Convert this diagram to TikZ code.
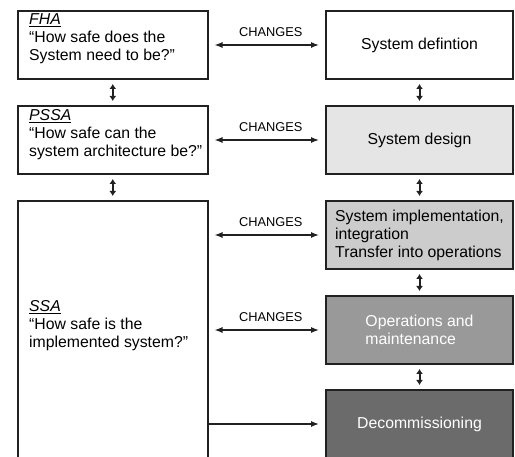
\documentclass[tikz,border=0pt]{standalone}
\usepackage{fontspec}
\setmainfont{Liberation Sans}
\usetikzlibrary{positioning,calc,arrows.meta}
\definecolor{designgray}{gray}{0.9}
\definecolor{implgray}{gray}{0.8}
\definecolor{opsgray}{gray}{0.6}
\definecolor{decomgray}{gray}{0.42}
\definecolor{inkgray}{gray}{0.13}

\begin{document}
\begin{tikzpicture}[x=1pt,y=-1pt]
\tikzstyle{box}=[draw=inkgray,line width=2pt,minimum height=68pt,inner sep=0pt,
  font=\fontsize{15.8}{18}\selectfont]
\tikzstyle{leftbox}=[box,minimum width=189.5pt]
\tikzstyle{rightbox}=[box,minimum width=187pt,align=left]
\tikzstyle{boxtext}=[anchor=west,align=left,inner sep=0pt,
  font=\fontsize{15.8}{18}\selectfont]
\tikzstyle{change}=[<->,draw=inkgray,line width=1.3pt,shorten <=6pt,shorten >=6pt]
\tikzstyle{link}=[{Latex[length=5pt,width=7pt]}-{Latex[length=5pt,width=7pt]},
  draw=inkgray,line width=2pt,shorten <=4pt,shorten >=4pt]
\tikzstyle{changelbl}=[midway,yshift=13pt,xshift=4pt,inner sep=0pt,
  font=\fontsize{12.8}{14}\selectfont]
\tikzset{>={Latex[length=8pt,width=6pt]}}
\useasboundingbox (0,0) rectangle (515,457);
% analysis column
\node[leftbox] (fha) at (112.75,45) {};
\node[leftbox] (pssa) at (112.75,140) {};
\node[leftbox,minimum height=280pt] (ssa) at (112.75,341) {};
\node[boxtext] (fhatext) at ($(fha.west)+(12,-6)$)
  {\underline{\textit{FHA}}\\“How safe does the\\System need to be?”};
\node[boxtext] (pssatext) at ($(pssa.west)+(12,-5)$)
  {\underline{\textit{PSSA}}\\“How safe can the\\system architecture be?”};
\node[boxtext] (ssatext) at ($(ssa.west)+(12,-15)$)
  {\underline{\textit{SSA}}\\“How safe is the\\implemented system?”};
% lifecycle column
\node[rightbox] (sysdef) at (419.5,45) {System defintion};
\node[rightbox,fill=designgray] (sysdes) at (419.5,140) {System design};
\node[rightbox,fill=implgray] (sysimpl) at (419.5,235)
  {System implementation,\\integration\\Transfer into operations};
\node[rightbox,fill=opsgray,text=white] (ops) at (419.5,330)
  {Operations and\\maintenance};
\node[rightbox,fill=decomgray,text=white] (decom) at (419.5,424)
  {Decommissioning};
% vertical links
\draw[link] (fha) -- (pssa);
\draw[link] (pssa) -- (ssa);
\draw[link] (sysdef) -- (sysdes);
\draw[link] (sysdes) -- (sysimpl);
\draw[link] (sysimpl) -- (ops);
\draw[link] (ops) -- (decom);
% changes
\draw[change] (fha) -- node[changelbl] {CHANGES} (sysdef);
\draw[change] (pssa) -- node[changelbl] {CHANGES} (sysdes);
\draw[change] (ssa.east |- sysimpl) -- node[changelbl] {CHANGES} (sysimpl);
\draw[change] (ssa.east |- ops) -- node[changelbl] {CHANGES} (ops);
\draw[change,->,shorten <=0pt] (ssa.east |- decom) -- (decom);
\end{tikzpicture}
\end{document}
